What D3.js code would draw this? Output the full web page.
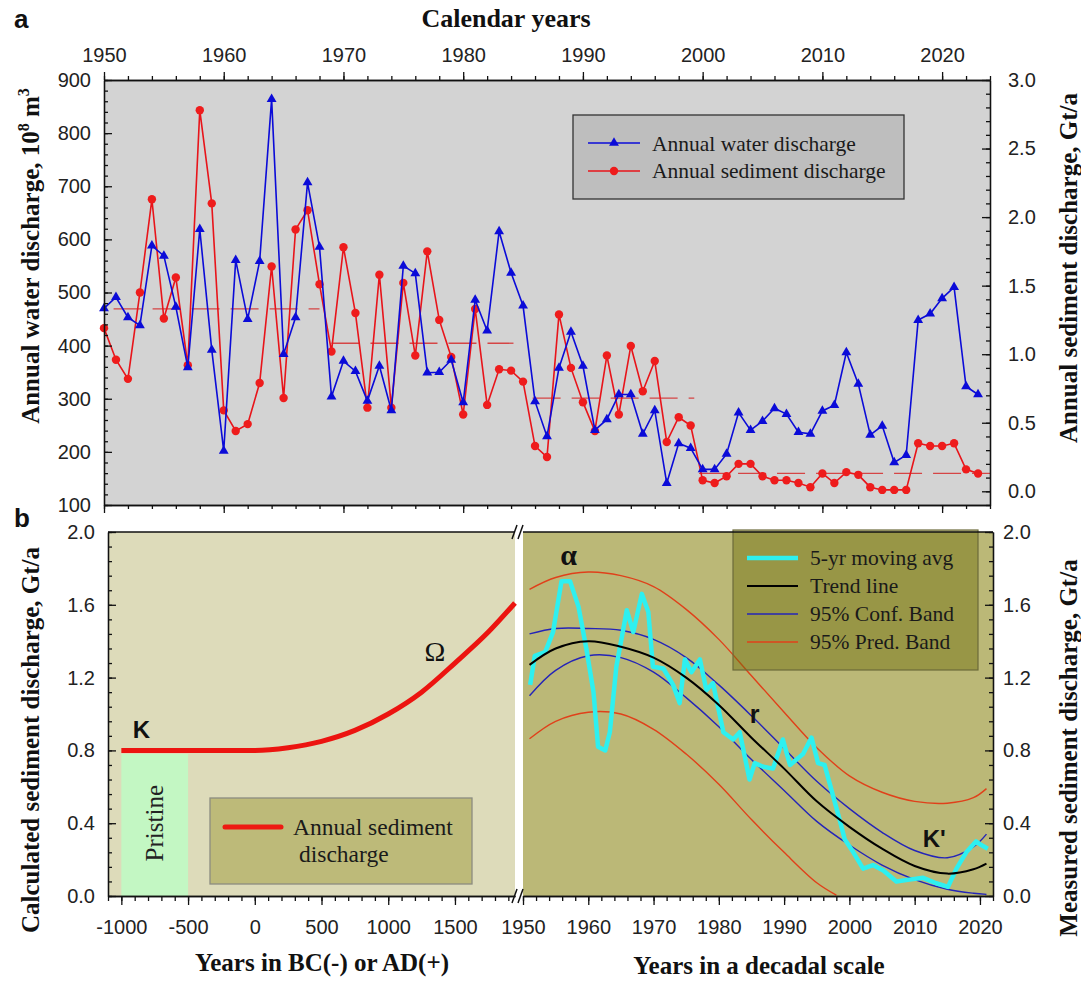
<!DOCTYPE html>
<html lang="en">
<head>
<meta charset="utf-8">
<title>Water and sediment discharge</title>
<script src="https://cdn.jsdelivr.net/npm/d3@7"></script>
<style>
  body { margin: 0; background: #fff; }
  svg { display: block; }
  .tick text { font-family: "Liberation Sans", Arial, sans-serif; font-size: 20px; fill: #222; }
  .tick line, .domain { stroke: #111; stroke-width: 1.3; }
  .title { font-family: "Liberation Serif", "Times New Roman", serif; font-weight: bold; font-size: 25px; fill: #111; }
  .legend text { font-family: "Liberation Serif", "Times New Roman", serif; font-size: 21.5px; fill: #1a1a1a; }
  .letter { font-family: "Liberation Sans", Arial, sans-serif; font-weight: bold; fill: #111; }
</style>
</head>
<body>
<div id="chart"></div>
<script>

/* Data */
/* ==== */

// panel a: yearly values 1950-2023
var years = d3.range(1950, 2024);

var waterDischarge = [470, 491, 453, 438, 588, 569, 473, 359, 619, 392,
  202, 561, 450, 559, 864, 384, 453, 707, 586, 304,
  371, 352, 296, 362, 278, 550, 536, 349, 350, 373,
  293, 486, 428, 615, 537, 475, 295, 229, 358, 426,
  362, 241, 261, 308, 308, 234, 278, 141, 216, 207,
  167, 167, 196, 274, 241, 258, 282, 271, 237, 234,
  277, 288, 387, 328, 232, 249, 180, 194, 448, 460,
  489, 510, 323, 308];

var sedimentDischarge = [1.19, 0.96, 0.82, 1.45, 2.13, 1.26, 1.56, 0.92, 2.78, 2.10,
  0.59, 0.44, 0.49, 0.79, 1.64, 0.68, 1.91, 2.05, 1.51, 1.02,
  1.78, 1.30, 0.61, 1.58, 0.61, 1.52, 0.99, 1.75, 1.25, 0.98,
  0.56, 1.33, 0.63, 0.89, 0.88, 0.80, 0.33, 0.25, 1.29, 0.90,
  0.65, 0.44, 0.99, 0.56, 1.06, 0.73, 0.95, 0.36, 0.54, 0.48,
  0.08, 0.06, 0.11, 0.20, 0.20, 0.11, 0.08, 0.08, 0.06, 0.03,
  0.13, 0.06, 0.14, 0.12, 0.03, 0.01, 0.01, 0.01, 0.35, 0.33,
  0.33, 0.35, 0.16, 0.13];

// period means of sediment discharge (dashed)
var meanStart = [1950.8, 1969, 1985.8, 1999.7];
var meanEnd   = [1968, 1984.2, 1999.3, 2024];
var meanValue = [1.33, 1.08, 0.68, 0.13];

var topTicks = [1950, 1960, 1970, 1980, 1990, 2000, 2010, 2020];
var waterTicks = [100, 200, 300, 400, 500, 600, 700, 800, 900];
var sedTicks = [0, 0.5, 1.0, 1.5, 2.0, 2.5, 3.0];

// panel b, left: calculated discharge
var calcYears  = [-1000, -500, 0, 250, 500, 750, 1000, 1250, 1500, 1750, 1950];
var calcValues = [0.80, 0.80, 0.80, 0.815, 0.85, 0.91, 1.00, 1.12, 1.28, 1.45, 1.61];

// panel b, right: measured
var movingYears = [1951.1, 1951.8, 1953.4, 1954.6, 1955.9, 1957.2, 1958.5, 1959.7, 1960.8, 1961.5,
  1962.6, 1963.3, 1964.3, 1965.9, 1966.9, 1968.2, 1969.2, 1969.9, 1971.5, 1973.0,
  1974.0, 1974.8, 1975.8, 1977.1, 1978.1, 1979.1, 1980.7, 1982.2, 1983.2, 1984.7,
  1985.5, 1986.8, 1988.3, 1989.8, 1990.9, 1992.9, 1994.2, 1995.2, 1996.2, 1998.5,
  1999.3, 2000.6, 2002.1, 2003.6, 2005.2, 2007.2, 2009.2, 2011.3, 2013.3, 2015.1,
  2016.4, 2017.9, 2019.4, 2020.2, 2021.2];
var movingValues = [1.16, 1.32, 1.34, 1.45, 1.73, 1.73, 1.59, 1.36, 1.12, 0.82,
  0.80, 0.90, 1.26, 1.57, 1.45, 1.66, 1.56, 1.26, 1.25, 1.16,
  1.06, 1.30, 1.23, 1.30, 1.13, 1.17, 0.90, 0.86, 0.90, 0.64,
  0.73, 0.71, 0.70, 0.86, 0.72, 0.78, 0.87, 0.73, 0.72, 0.42,
  0.31, 0.24, 0.15, 0.17, 0.14, 0.08, 0.09, 0.10, 0.07, 0.05,
  0.15, 0.24, 0.30, 0.28, 0.26];

var bandYears  = [1951, 1955, 1960, 1965, 1970, 1975, 1980, 1985, 1990, 1995, 2000, 2005, 2010, 2015, 2019, 2021];
var trendLine  = [1.27, 1.36, 1.40, 1.37, 1.31, 1.20, 1.05, 0.87, 0.70, 0.52, 0.38, 0.26, 0.165, 0.123, 0.147, 0.178];
var confUpper  = [1.44, 1.47, 1.47, 1.46, 1.41, 1.31, 1.16, 0.99, 0.81, 0.63, 0.48, 0.35, 0.25, 0.21, 0.27, 0.34];
var confLower  = [1.10, 1.24, 1.32, 1.31, 1.23, 1.09, 0.93, 0.75, 0.58, 0.41, 0.28, 0.17, 0.09, 0.037, 0.015, 0.009];
var predUpper  = [1.685, 1.75, 1.78, 1.76, 1.70, 1.575, 1.41, 1.21, 1.01, 0.815, 0.66, 0.57, 0.52, 0.51, 0.54, 0.59];
var predLowerYears = [1951, 1955, 1960, 1965, 1970, 1975, 1980, 1985, 1990, 1995, 1998];
var predLower  = [0.864, 0.96, 1.01, 1.00, 0.916, 0.78, 0.614, 0.42, 0.24, 0.073, 0.005];

var bcTicks  = [-1000, -500, 0, 500, 1000, 1500];
var decTicks = [1950, 1960, 1970, 1980, 1990, 2000, 2010, 2020];
var bTicks   = [0, 0.4, 0.8, 1.2, 1.6, 2.0];


/* Set up */
/* ====== */

var svg = d3.select('#chart').append('svg')
    .attr('width', 1081)
    .attr('height', 985);

function fmt1(d) { return d.toFixed(1); }
function plain(d) { return String(d); }

// draws a major (labelled) and a minor axis on the same spot
function drawAxis(g, axisFn, scale, major, minor, majorSize, minorSize, pad, format) {
  g.append('g').call(axisFn(scale).tickValues(minor).tickSize(minorSize).tickSizeOuter(0).tickFormat(''));
  g.append('g').call(axisFn(scale).tickValues(major).tickSize(majorSize).tickSizeOuter(0)
      .tickPadding(pad).tickFormat(format || plain));
}


/* Panel a */
/* ======= */

var xA = d3.scaleLinear().domain([1950, 2024]).range([104, 990]);
var yWater = d3.scaleLinear().domain([100, 900]).range([505, 80]);
var ySed = d3.scaleLinear().domain([-0.1, 3.0]).range([505, 80]);

var gA = svg.append('g').attr('class', 'panel-a');

gA.append('rect')
    .attr('x', xA.range()[0]).attr('y', 80)
    .attr('width', xA.range()[1] - xA.range()[0]).attr('height', 425)
    .attr('fill', '#d3d3d3');

// dashed period means
gA.append('g').selectAll('line')
  .data(meanValue).enter()
  .append('line')
    .attr('x1', function(d, i) { return xA(meanStart[i]); })
    .attr('x2', function(d, i) { return xA(meanEnd[i]); })
    .attr('y1', function(d) { return ySed(d); })
    .attr('y2', function(d) { return ySed(d); })
    .attr('stroke', '#d54545')
    .attr('stroke-width', 1.3)
    .attr('stroke-dasharray', '28,11');

var waterLine = d3.line()
    .x(function(d, i) { return xA(years[i]); })
    .y(function(d) { return yWater(d); });

var sedLine = d3.line()
    .x(function(d, i) { return xA(years[i]); })
    .y(function(d) { return ySed(d); });

gA.append('path')
    .datum(sedimentDischarge)
    .attr('d', sedLine)
    .attr('fill', 'none')
    .attr('stroke', '#e8141a')
    .attr('stroke-width', 1.6);

gA.append('g').selectAll('circle')
  .data(sedimentDischarge).enter()
  .append('circle')
    .attr('cx', function(d, i) { return xA(years[i]); })
    .attr('cy', function(d) { return ySed(d); })
    .attr('r', 4.2)
    .attr('fill', '#ee1c1c');

gA.append('path')
    .datum(waterDischarge)
    .attr('d', waterLine)
    .attr('fill', 'none')
    .attr('stroke', '#0b0bd8')
    .attr('stroke-width', 1.6);

var tri = d3.symbol().type(d3.symbolTriangle).size(42);

gA.append('g').selectAll('path')
  .data(waterDischarge).enter()
  .append('path')
    .attr('d', tri)
    .attr('transform', function(d, i) { return 'translate(' + xA(years[i]) + ',' + yWater(d) + ')'; })
    .attr('fill', '#0b0bd8');

// axes
var minorYears = d3.range(1950, 2025, 2);
drawAxis(gA.append('g').attr('transform', 'translate(0,80)'), d3.axisTop, xA, topTicks, minorYears, 8, 4, 10);
drawAxis(gA.append('g').attr('transform', 'translate(0,505)'), d3.axisBottom, xA, topTicks, minorYears, 8, 4, 10, function() { return ''; });
drawAxis(gA.append('g').attr('transform', 'translate(104,0)'), d3.axisLeft, yWater, waterTicks, d3.range(100, 901, 20), -8, -4, 13);
drawAxis(gA.append('g').attr('transform', 'translate(990,0)'), d3.axisRight, ySed, sedTicks, d3.range(-1, 31).map(function(d) { return d / 10; }), -8, -4, 18, fmt1);

// legend a
var legA = gA.append('g').attr('class', 'legend');
legA.append('rect')
    .attr('x', 573).attr('y', 115).attr('width', 331).attr('height', 84)
    .attr('fill', '#bebebe').attr('stroke', '#333').attr('stroke-width', 1.3);
legA.append('line').attr('x1', 588).attr('x2', 640).attr('y1', 143).attr('y2', 143)
    .attr('stroke', '#0b0bd8').attr('stroke-width', 1.6);
legA.append('path').attr('d', tri).attr('transform', 'translate(614,143)').attr('fill', '#0b0bd8');
legA.append('line').attr('x1', 588).attr('x2', 640).attr('y1', 171).attr('y2', 171)
    .attr('stroke', '#e8141a').attr('stroke-width', 1.6);
legA.append('circle').attr('cx', 614).attr('cy', 171).attr('r', 4.2).attr('fill', '#ee1c1c');
legA.append('text').attr('x', 652).attr('y', 151).text('Annual water discharge');
legA.append('text').attr('x', 652).attr('y', 178).text('Annual sediment discharge');

// titles a
svg.append('text').attr('class', 'letter').attr('x', 14).attr('y', 28).style('font-size', '26px').text('a');
svg.append('text').attr('class', 'title').attr('x', 506).attr('y', 27)
    .attr('text-anchor', 'middle').style('font-size', '26px').text('Calendar years');

var tl = svg.append('text').attr('class', 'title')
    .attr('transform', 'translate(39,256) rotate(-90)')
    .attr('text-anchor', 'middle');
tl.append('tspan').text('Annual water discharge, 10');
tl.append('tspan').attr('dy', -10).style('font-size', '16px').text('8');
tl.append('tspan').attr('dy', 10).text(' m');
tl.append('tspan').attr('dy', -10).style('font-size', '16px').text('3');

svg.append('text').attr('class', 'title')
    .attr('transform', 'translate(1077,268) rotate(-90)')
    .attr('text-anchor', 'middle')
    .text('Annual sediment discharge, Gt/a');


/* Panel b */
/* ======= */

var xBC = d3.scaleLinear().domain([-1100, 1950]).range([108, 515]);
var xDec = d3.scaleLinear().domain([1950, 2022]).range([523, 993]);
var yB = d3.scaleLinear().domain([0, 2]).range([896, 532]);

var gB = svg.append('g').attr('class', 'panel-b');

gB.append('rect')
    .attr('x', 108).attr('y', 532).attr('width', 515 - 108).attr('height', 364)
    .attr('fill', '#dddbba');
gB.append('rect')
    .attr('x', 523).attr('y', 532).attr('width', 993 - 523).attr('height', 364)
    .attr('fill', '#bbb877');

// pristine period
gB.append('rect')
    .attr('x', xBC(-1000)).attr('y', yB(0.78))
    .attr('width', xBC(-500) - xBC(-1000)).attr('height', yB(0) - yB(0.78))
    .attr('fill', '#c3f7c3');
gB.append('text')
    .attr('transform', 'translate(' + (xBC(-750) + 8) + ',' + yB(0.4) + ') rotate(-90)')
    .attr('text-anchor', 'middle')
    .style('font-family', '"Liberation Serif", serif').style('font-size', '25px').style('fill', '#222')
    .text('Pristine');

// left legend
var legB1 = gB.append('g').attr('class', 'legend');
legB1.append('rect')
    .attr('x', 210).attr('y', 798).attr('width', 262).attr('height', 86)
    .attr('fill', '#bdba79').attr('stroke', '#8c8c80').attr('stroke-width', 1.3);
legB1.append('line').attr('x1', 225).attr('x2', 281).attr('y1', 827).attr('y2', 827)
    .attr('stroke', '#ee1a12').attr('stroke-width', 5).attr('stroke-linecap', 'round');
legB1.append('text').attr('x', 293).attr('y', 835).style('font-size', '23.5px').text('Annual sediment');
legB1.append('text').attr('x', 299).attr('y', 862).style('font-size', '23.5px').text('discharge');

// calculated curve
var calcLine = d3.line()
    .curve(d3.curveMonotoneX)
    .x(function(d, i) { return xBC(calcYears[i]); })
    .y(function(d) { return yB(d); });

gB.append('path')
    .datum(calcValues)
    .attr('d', calcLine)
    .attr('fill', 'none')
    .attr('stroke', '#ec1410')
    .attr('stroke-width', 5);

// measured curves
function bandLine(xs) {
  return d3.line()
    .curve(d3.curveCatmullRom)
    .x(function(d, i) { return xDec(xs[i]); })
    .y(function(d) { return yB(d); });
}

var bands = [
  { values: predUpper, xs: bandYears, color: '#e0401a', width: 1.4 },
  { values: predLower, xs: predLowerYears, color: '#e0401a', width: 1.4 },
  { values: confUpper, xs: bandYears, color: '#2424b8', width: 1.4 },
  { values: confLower, xs: bandYears, color: '#2424b8', width: 1.4 }
];

bands.forEach(function(b) {
  gB.append('path')
      .datum(b.values)
      .attr('d', bandLine(b.xs))
      .attr('fill', 'none')
      .attr('stroke', b.color)
      .attr('stroke-width', b.width);
});

gB.append('path')
    .datum(movingValues)
    .attr('d', d3.line()
      .x(function(d, i) { return xDec(movingYears[i]); })
      .y(function(d) { return yB(d); }))
    .attr('fill', 'none')
    .attr('stroke', '#2ef0f0')
    .attr('stroke-width', 4.5)
    .attr('stroke-linejoin', 'round');

gB.append('path')
    .datum(trendLine)
    .attr('d', bandLine(bandYears))
    .attr('fill', 'none')
    .attr('stroke', '#000')
    .attr('stroke-width', 2);

// right legend (translucent)
var legB2 = gB.append('g').attr('class', 'legend');
legB2.append('rect')
    .attr('x', 733).attr('y', 530).attr('width', 245).attr('height', 140)
    .attr('fill', 'rgba(110,108,10,0.45)').attr('stroke', '#6c6a3a').attr('stroke-width', 1.2);
var legItems = [
  { label: '5-yr moving avg', color: '#2ef0f0', width: 4.5 },
  { label: 'Trend line', color: '#000', width: 2 },
  { label: '95% Conf. Band', color: '#2424b8', width: 1.4 },
  { label: '95% Pred. Band', color: '#e0401a', width: 1.4 }
];
legItems.forEach(function(d, i) {
  var y = 558 + i * 28;
  legB2.append('line').attr('x1', 747).attr('x2', 798).attr('y1', y).attr('y2', y)
      .attr('stroke', d.color).attr('stroke-width', d.width);
  legB2.append('text').attr('x', 810).attr('y', y + 7).text(d.label);
});

// axes b
var bMinor = d3.range(0, 26).map(function(d) { return d * 0.08; });
drawAxis(gB.append('g').attr('transform', 'translate(108,0)'), d3.axisLeft, yB, bTicks, bMinor, -8, -4, 13, fmt1);
drawAxis(gB.append('g').attr('transform', 'translate(993,0)'), d3.axisRight, yB, bTicks, bMinor, -8, -4, 10, fmt1);
drawAxis(gB.append('g').attr('transform', 'translate(0,896)'), d3.axisBottom, xBC, bcTicks, d3.range(-1100, 1950, 100), 9, 5, 15);
drawAxis(gB.append('g').attr('transform', 'translate(0,896)'), d3.axisBottom, xDec, decTicks, d3.range(1950, 2023, 2), 9, 5, 15);

// top frame lines
gB.append('line').attr('x1', 108).attr('x2', 515).attr('y1', 532).attr('y2', 532).attr('stroke', '#111').attr('stroke-width', 1.3);
gB.append('line').attr('x1', 523).attr('x2', 993).attr('y1', 532).attr('y2', 532).attr('stroke', '#111').attr('stroke-width', 1.3);

// axis break marks
[532, 896].forEach(function(y) {
  [0, 6].forEach(function(dx) {
    gB.append('line')
        .attr('x1', 512 + dx).attr('y1', y + 7)
        .attr('x2', 517 + dx).attr('y2', y - 7)
        .attr('stroke', '#111').attr('stroke-width', 1.5);
  });
});

// annotations
gB.append('text').attr('class', 'letter').attr('x', xBC(-850)).attr('y', yB(0.87))
    .attr('text-anchor', 'middle').style('font-size', '24px').text('K');
gB.append('text').attr('x', xBC(1350)).attr('y', yB(1.29))
    .attr('text-anchor', 'middle')
    .style('font-family', '"Liberation Serif", serif').style('font-size', '28px').style('fill', '#111')
    .text('Ω');
gB.append('text').attr('x', xDec(1957)).attr('y', yB(1.82))
    .attr('text-anchor', 'middle')
    .style('font-family', '"Liberation Serif", serif').style('font-weight', 'bold').style('font-size', '30px').style('fill', '#111')
    .text('α');
gB.append('text').attr('class', 'letter').attr('x', xDec(1985.5)).attr('y', yB(0.95))
    .attr('text-anchor', 'middle').style('font-size', '25px').text('r');
gB.append('text').attr('class', 'letter').attr('x', xDec(2013)).attr('y', yB(0.27))
    .attr('text-anchor', 'middle').style('font-size', '24px').text("K'");

// titles b
svg.append('text').attr('class', 'letter').attr('x', 14).attr('y', 527).style('font-size', '26px').text('b');

svg.append('text').attr('class', 'title')
    .attr('transform', 'translate(39,740) rotate(-90)')
    .attr('text-anchor', 'middle')
    .text('Calculated sediment discharge, Gt/a');
svg.append('text').attr('class', 'title')
    .attr('transform', 'translate(1077,748) rotate(-90)')
    .attr('text-anchor', 'middle')
    .text('Measured sediment discharge, Gt/a');
svg.append('text').attr('class', 'title')
    .attr('x', 322).attr('y', 971).attr('text-anchor', 'middle')
    .text('Years in BC(-) or AD(+)');
svg.append('text').attr('class', 'title')
    .attr('x', 759).attr('y', 974).attr('text-anchor', 'middle')
    .text('Years in a decadal scale');

</script>
</body>
</html>
